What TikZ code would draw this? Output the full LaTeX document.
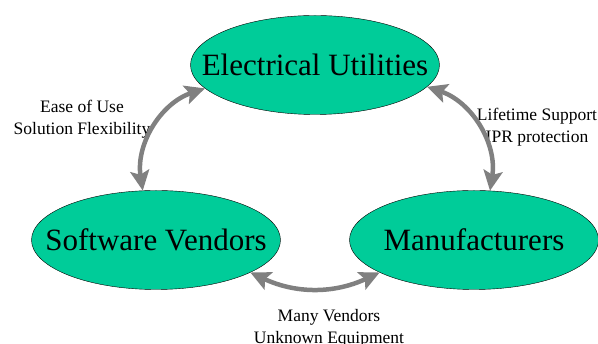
\documentclass[tikz,border=0pt]{standalone}
\usepackage{fontspec}
\setmainfont{Liberation Serif}
\usetikzlibrary{positioning,arrows.meta,shapes.geometric}
\definecolor{partygreen}{RGB}{0,204,153}
\definecolor{linkgray}{RGB}{128,128,128}
\tikzset{
>={Stealth[length=20pt,width=19pt,inset=4pt]}, % big gray heads
party/.style={ellipse, draw=black, thin, fill=partygreen, minimum width=249pt, minimum height=99pt, inner sep=0pt, font=\fontsize{31}{36}\selectfont},
link/.style={<->, draw=linkgray, line width=4.5pt},
note/.style={align=center, font=\fontsize{17.5}{22}\selectfont},
on grid
}
\newcommand\partyname[1]{\makebox[0pt]{#1}}

\begin{document}
\begin{tikzpicture}[x=1pt,y=1pt]
  \useasboundingbox (-315,65) rectangle (283,-279);
  \node[party] (util) {\partyname{Electrical Utilities}};
  \node[party] (soft) [below left=175pt and 159pt of util] {\partyname{Software Vendors}};
  \node[party] (manuf) [right=318pt of soft] {\partyname{Manufacturers}};
  \node[note] (easenote) [below left=54pt and 233pt of util] {Ease of Use\\Solution Flexibility};
  \node[note] (lifenote) [below right=62pt and 222pt of util] {Lifetime Support\\IPR protection};
  \node[note] (vendnote) [below right=88pt and 173pt of soft] {Many Vendors\\Unknown Equipment};
  \path
    (util.192) edge[link, bend right=40] (soft.105)
    (util.349) edge[link, bend left=40] (manuf.72)
    (soft.341) edge[link, bend right=25] (manuf.199);
\end{tikzpicture}
\end{document}
